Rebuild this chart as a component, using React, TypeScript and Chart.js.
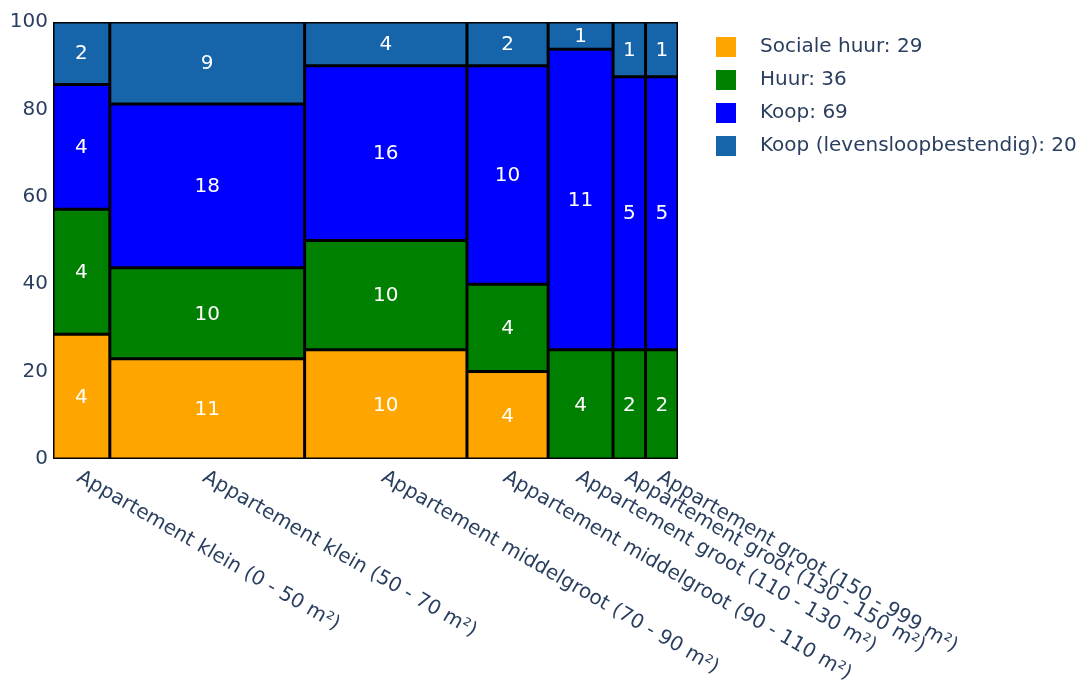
import React, { useEffect, useRef } from 'react';
import { Chart, registerables } from 'chart.js';

Chart.register(...registerables);

// ---- data ----
const categories = [
  'Appartement klein (0 - 50 m²)',
  'Appartement klein (50 - 70 m²)',
  'Appartement middelgroot (70 - 90 m²)',
  'Appartement middelgroot (90 - 110 m²)',
  'Appartement groot (110 - 130 m²)',
  'Appartement groot (130 - 150 m²)',
  'Appartement groot (150 - 999 m²)',
];
const seriesNames = ['Sociale huur', 'Huur', 'Koop', 'Koop (levensloopbestendig)'];
const socialeHuur = [4, 11, 10, 4, 0, 0, 0];
const huur = [4, 10, 10, 4, 4, 2, 2];
const koop = [4, 18, 16, 10, 11, 5, 5];
const koopLevensloop = [2, 9, 4, 2, 1, 1, 1];
const yTicks = [0, 20, 40, 60, 80, 100];
const seriesColors = ['#FFA500', '#008000', '#0000FF', '#1664AA'];

const FONT = "'DejaVu Sans', Verdana, sans-serif";
const TEXT = '#2a3f5f';
const W = 1089;
const H = 687;

export default function App() {
  const ref = useRef<HTMLCanvasElement>(null);

  useEffect(() => {
    const canvas = ref.current;
    if (!canvas) return;
    const series = [socialeHuur, huur, koop, koopLevensloop];
    const totals = categories.map((_, i) => series.reduce((a, s) => a + s[i], 0));
    const starts: number[] = [];
    let acc = 0;
    totals.forEach((t) => {
      starts.push(acc);
      acc += t;
    });
    const grand = acc;

    const swatches = seriesColors.map((c) => {
      const sw = document.createElement('canvas');
      sw.width = 20;
      sw.height = 20;
      const g = sw.getContext('2d')!;
      g.fillStyle = c;
      g.fillRect(0, 0, 20, 20);
      return sw;
    });

    const datasets = categories.map((cat, i) => {
      const data: any[] = [];
      let cum = 0;
      series.forEach((s, k) => {
        const v = s[i];
        if (v > 0) {
          data.push({
            x: starts[i] + totals[i] / 2,
            y: [(cum / totals[i]) * 100, ((cum + v) / totals[i]) * 100],
            s: k,
            v,
          });
        }
        cum += v;
      });
      return {
        label: cat,
        data,
        stack: 'marimekko',
        backgroundColor: data.map((d) => seriesColors[d.s]),
        borderColor: '#000000',
        borderWidth: 2,
        borderSkipped: false,
        inflateAmount: 0.5,
        barThickness: (ctx: any) => {
          const xs = ctx.chart.scales.x;
          if (!xs) return 10;
          return Math.abs(xs.getPixelForValue(starts[i] + totals[i]) - xs.getPixelForValue(starts[i]));
        },
      };
    });

    const valueLabels = {
      id: 'valueLabels',
      afterDatasetsDraw(chart: any) {
        const ctx = chart.ctx;
        ctx.save();
        ctx.font = `20px ${FONT}`;
        ctx.fillStyle = '#ffffff';
        ctx.textAlign = 'center';
        ctx.textBaseline = 'middle';
        chart.data.datasets.forEach((ds: any, di: number) => {
          const meta = chart.getDatasetMeta(di);
          meta.data.forEach((el: any, j: number) => {
            const raw = ds.data[j];
            ctx.fillText(String(raw.v), el.x, (el.y + el.base) / 2 + 1);
          });
        });
        ctx.restore();
      },
    };

    const xLabels = {
      id: 'xLabels',
      afterDraw(chart: any) {
        const ctx = chart.ctx;
        const xs = chart.scales.x;
        const bottom = chart.chartArea.bottom;
        ctx.save();
        ctx.font = `20px ${FONT}`;
        ctx.fillStyle = TEXT;
        ctx.textAlign = 'left';
        ctx.textBaseline = 'middle';
        categories.forEach((cat, i) => {
          const cx = xs.getPixelForValue(starts[i] + totals[i] / 2);
          ctx.save();
          ctx.translate(cx - 3, bottom + 17);
          ctx.rotate((30 * Math.PI) / 180);
          ctx.fillText(cat, 0, 0);
          ctx.restore();
        });
        ctx.restore();
      },
    };

    const legendNudge = {
      id: 'legendNudge',
      afterLayout(chart: any) {
        const lg = chart.legend;
        if (!lg) return;
        lg.left = chart.chartArea.right + 11;
        lg.right = W;
        lg.width = lg.right - lg.left;
        lg.top += 2;
        lg.bottom += 2;
      },
    };

    const chart = new Chart(canvas, {
      type: 'bar',
      data: { datasets: datasets as any },
      options: {
        responsive: false,
        animation: false,
        events: [],
        layout: { padding: { left: 0, top: 22, right: 21, bottom: 0 } },
        scales: {
          x: {
            type: 'linear',
            min: 0,
            max: grand,
            offset: false,
            grid: { display: false, offset: false },
            border: { display: false },
            ticks: { display: false },
            afterFit: (s: any) => {
              s.height = 228;
            },
          },
          y: {
            type: 'linear',
            min: 0,
            max: 100,
            stacked: false,
            grid: { display: false, drawTicks: false },
            border: { display: false },
            afterBuildTicks: (s: any) => {
              s.ticks = yTicks.map((v) => ({ value: v }));
            },
            ticks: {
              padding: 5,
              color: TEXT,
              font: { family: FONT, size: 20 },
            },
            afterFit: (s: any) => {
              s.width = 53;
            },
          },
        },
        plugins: {
          tooltip: { enabled: false },
          legend: {
            display: true,
            position: 'right',
            align: 'start',
            maxWidth: 390,
            onClick: () => {},
            labels: {
              usePointStyle: true,
              pointStyleWidth: 48,
              boxHeight: 20,
              padding: 13,
              color: TEXT,
              font: { family: FONT, size: 20 },
              generateLabels: () =>
                seriesNames.map((name, k) => ({
                  text: `${name}: ${series[k].reduce((a, b) => a + b, 0)}`,
                  fillStyle: seriesColors[k],
                  strokeStyle: seriesColors[k],
                  lineWidth: 0,
                  pointStyle: swatches[k] as any,
                  hidden: false,
                  fontColor: TEXT,
                })),
            },
          },
        },
      } as any,
      plugins: [valueLabels, xLabels, legendNudge],
    });

    return () => chart.destroy();
  }, []);

  return (
    <div style={{ position: 'absolute', left: 0, top: 0, width: W, height: H, background: '#fff' }}>
      <canvas ref={ref} width={W} height={H} style={{ display: 'block', width: W, height: H }} />
    </div>
  );
}
